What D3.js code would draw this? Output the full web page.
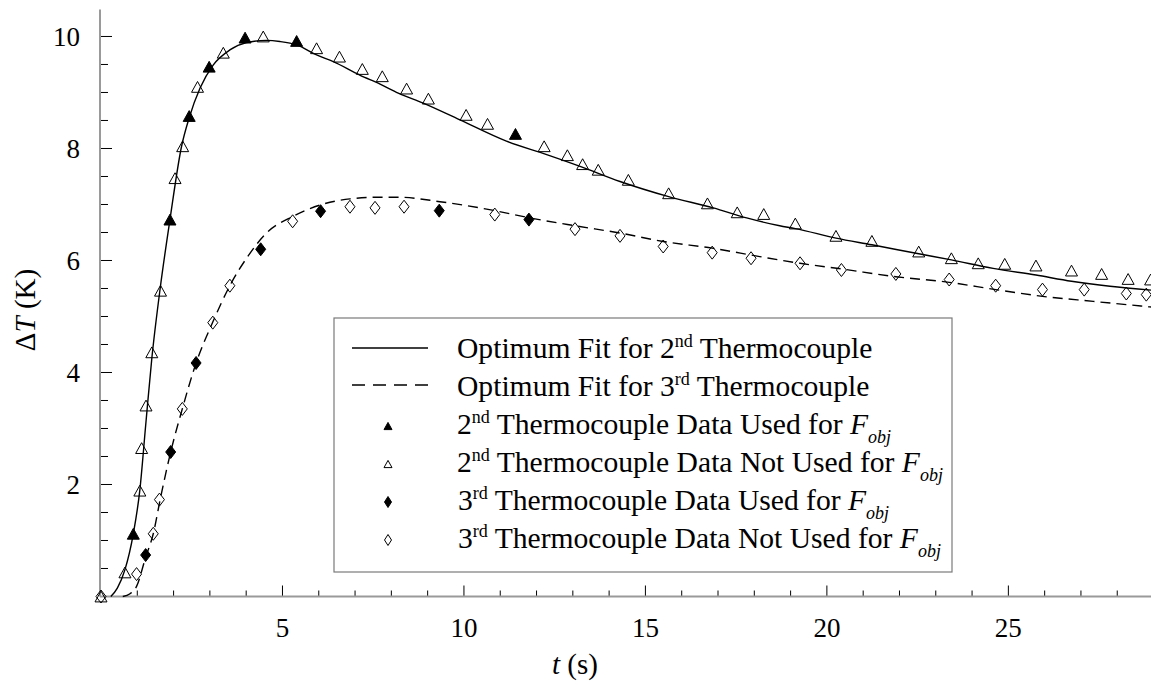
<!DOCTYPE html>
<html lang="en">
<head>
<meta charset="UTF-8">
<title>Thermocouple fit</title>
<script src="https://d3js.org/d3.v7.min.js"></script>
<style>
  body { margin: 0; background: #fff; }
  svg { display: block; }
</style>
</head>
<body>
<script>
  // tick labels
  const xTicks = [5, 10, 15, 20, 25];
  const yTicks = [2, 4, 6, 8, 10];

  // 2nd thermocouple data (t in s, dT in K)
  const t2Used = [0.89, 1.90, 2.43, 2.98, 3.97, 5.39, 11.42];
  const dT2Used = [1.12, 6.73, 8.58, 9.46, 9.98, 9.92, 8.26];
  const t2NotUsed = [0, 0.66, 1.07, 1.12, 1.24, 1.40, 1.64, 2.04, 2.25, 2.66, 3.37, 4.47, 5.94, 6.57, 7.20, 7.75,
    8.42, 9.02, 10.06, 10.65, 12.21, 12.85, 13.27, 13.70, 14.53, 15.64, 16.71, 17.53, 18.26, 19.13, 20.25,
    21.24, 22.53, 23.43, 24.17, 24.90, 25.76, 26.74, 27.57, 28.30, 28.92];
  const dT2NotUsed = [0, 0.43, 1.89, 2.65, 3.41, 4.36, 5.46, 7.47, 8.04, 9.10, 9.71, 10.0, 9.79, 9.64, 9.42, 9.29,
    9.07, 8.89, 8.60, 8.44, 8.04, 7.88, 7.72, 7.62, 7.44, 7.20, 7.02, 6.86, 6.83, 6.66, 6.44,
    6.35, 6.16, 6.04, 5.95, 5.94, 5.91, 5.82, 5.76, 5.67, 5.66];

  // 3rd thermocouple data
  const t3Used = [1.23, 1.92, 2.62, 4.40, 6.05, 9.32, 11.79];
  const dT3Used = [0.74, 2.58, 4.17, 6.20, 6.88, 6.89, 6.73];
  const t3NotUsed = [0, 0.98, 1.44, 1.61, 2.24, 3.08, 3.55, 5.28, 6.86, 7.55, 8.35, 10.85, 13.06, 14.30, 15.49,
    16.84, 17.91, 19.26, 20.40, 21.90, 23.37, 24.65, 25.94, 27.09, 28.25, 28.80];
  const dT3NotUsed = [0, 0.40, 1.12, 1.73, 3.35, 4.89, 5.55, 6.70, 6.96, 6.94, 6.96, 6.82, 6.56, 6.44, 6.25,
    6.14, 6.04, 5.95, 5.83, 5.76, 5.66, 5.55, 5.48, 5.48, 5.41, 5.39];

  // optimum fits
  const fit2t = [0.27, 0.45, 0.66, 0.89, 1.07, 1.23, 1.40, 1.63, 1.90, 2.22, 2.43, 2.73, 3.09, 3.55, 4.01, 4.56,
    4.93, 5.39, 5.94, 6.40, 7.13, 7.69, 8.19, 8.88, 9.89, 11.17, 12.28, 13.20, 14.30, 15.64, 16.87, 17.79,
    18.70, 19.13, 20.25, 21.24, 22.53, 23.43, 24.58, 25.76, 26.74, 27.80, 28.93];
  const fit2dT = [0, 0.15, 0.48, 1.12, 1.90, 3.05, 4.25, 5.50, 6.73, 8.04, 8.55, 9.08, 9.49, 9.76, 9.89, 9.93,
    9.91, 9.85, 9.67, 9.55, 9.31, 9.15, 8.99, 8.81, 8.51, 8.13, 7.89, 7.68, 7.41, 7.14, 6.94, 6.76,
    6.62, 6.57, 6.40, 6.28, 6.12, 6.01, 5.86, 5.74, 5.63, 5.54, 5.47];
  const fit3t = [0.60, 0.80, 0.98, 1.23, 1.44, 1.63, 1.92, 2.24, 2.62, 3.08, 3.55, 4.01, 4.56, 5.30, 6.03, 6.86,
    7.69, 8.19, 9.34, 10.85, 11.82, 13.06, 14.30, 15.49, 16.84, 18.15, 19.26, 20.40, 21.90, 23.37, 24.65,
    25.94, 27.34, 28.93];
  const fit3dT = [0, 0.05, 0.18, 0.70, 1.12, 1.73, 2.58, 3.35, 4.17, 4.90, 5.55, 6.04, 6.49, 6.79, 6.99, 7.10,
    7.13, 7.13, 7.05, 6.89, 6.76, 6.62, 6.49, 6.34, 6.22, 6.07, 5.95, 5.85, 5.71, 5.61, 5.48,
    5.36, 5.27, 5.17];

  const W = 1151, H = 690;
  const fontName = "Liberation Serif";
  const svg = d3.select("body").append("svg").attr("width", W).attr("height", H)
    .attr("font-family", fontName);

  const x = d3.scaleLinear().domain([0, 28.93]).range([101, 1151]);
  const y = d3.scaleLinear().domain([0, 10.48]).range([596.5, 9.6]);

  const zip = (a, b) => a.map((v, i) => [v, b[i]]);

  // axes: gray axis line, black inward ticks
  const xMinor = d3.range(1, 29).filter(v => v % 5 !== 0);
  const yMinor = d3.range(0.5, 10.5, 0.5).filter(v => v % 2 !== 0);

  const ax = svg.append("g");
  ax.selectAll(".xminor").data(xMinor).enter().append("line")
    .attr("x1", d => x(d)).attr("x2", d => x(d))
    .attr("y1", y(0)).attr("y2", y(0) - 6)
    .attr("stroke", "#000").attr("stroke-width", 1);
  ax.selectAll(".xmajor").data(xTicks).enter().append("line")
    .attr("x1", d => x(d)).attr("x2", d => x(d))
    .attr("y1", y(0)).attr("y2", y(0) - 11)
    .attr("stroke", "#000").attr("stroke-width", 1);
  ax.selectAll(".yminor").data(yMinor).enter().append("line")
    .attr("x1", x(0)).attr("x2", x(0) + 7)
    .attr("y1", d => y(d)).attr("y2", d => y(d))
    .attr("stroke", "#000").attr("stroke-width", 1);
  ax.selectAll(".ymajor").data(yTicks).enter().append("line")
    .attr("x1", x(0)).attr("x2", x(0) + 11)
    .attr("y1", d => y(d)).attr("y2", d => y(d))
    .attr("stroke", "#000").attr("stroke-width", 1);

  ax.append("line").attr("x1", x(0) - 1).attr("x2", W).attr("y1", y(0)).attr("y2", y(0))
    .attr("stroke", "#9a9a9a").attr("stroke-width", 2);
  ax.append("line").attr("x1", x(0) - 1).attr("x2", x(0) - 1).attr("y1", y(0)).attr("y2", y.range()[1])
    .attr("stroke", "#9a9a9a").attr("stroke-width", 2);

  ax.selectAll(".xlab").data(xTicks).enter().append("text")
    .attr("font-family", fontName)
    .attr("x", d => x(d)).attr("y", 637)
    .attr("text-anchor", "middle").attr("font-size", 27)
    .text(d => d);
  ax.selectAll(".ylab").data(yTicks).enter().append("text")
    .attr("font-family", fontName)
    .attr("x", 80).attr("y", d => y(d) + 9.5)
    .attr("text-anchor", "end").attr("font-size", 27)
    .text(d => d);

  // axis titles
  const xt = svg.append("text").attr("font-family", fontName)
    .attr("x", 575).attr("y", 674).attr("text-anchor", "middle").attr("font-size", 29);
  xt.append("tspan").attr("font-style", "italic").text("t");
  xt.append("tspan").text(" (s)");
  const yt = svg.append("text").attr("font-family", fontName)
    .attr("transform", "translate(35,310) rotate(-90)")
    .attr("text-anchor", "middle").attr("font-size", 29);
  yt.append("tspan").text("\u0394");
  yt.append("tspan").attr("font-style", "italic").text("T");
  yt.append("tspan").text(" (K)");

  // fit curves
  const line = d3.line().x(d => x(d[0])).y(d => y(d[1])).curve(d3.curveMonotoneX);
  svg.append("path").datum(zip(fit2t, fit2dT)).attr("d", line)
    .attr("fill", "none").attr("stroke", "#000").attr("stroke-width", 1.4);
  svg.append("path").datum(zip(fit3t, fit3dT)).attr("d", line)
    .attr("fill", "none").attr("stroke", "#000").attr("stroke-width", 1.4)
    .attr("stroke-dasharray", "10,6");

  // marker shapes
  const tri = s => `M0,${-s * 0.45}L${s / 2},${s * 0.45}L${-s / 2},${s * 0.45}Z`;
  const dia = (w, h) => `M0,${-h / 2}L${w / 2},0L0,${h / 2}L${-w / 2},0Z`;

  function markers(ts, vs, path, filled) {
    svg.append("g").selectAll("path").data(zip(ts, vs)).enter().append("path")
      .attr("d", path)
      .attr("transform", d => `translate(${x(d[0])},${y(d[1])})`)
      .attr("fill", filled ? "#000" : "none")
      .attr("stroke", "#000").attr("stroke-width", 1);
  }
  markers(t2NotUsed, dT2NotUsed, tri(12), false);
  markers(t3NotUsed, dT3NotUsed, dia(10, 13), false);
  markers(t2Used, dT2Used, tri(12), true);
  markers(t3Used, dT3Used, dia(10, 13), true);

  // legend
  const lg = svg.append("g");
  lg.append("rect").attr("x", 334).attr("y", 318).attr("width", 618).attr("height", 254)
    .attr("fill", "#fff").attr("stroke", "#7a7a7a").attr("stroke-width", 1.2);

  const rowBase = [358, 396, 434, 472, 510, 548];
  const fs = 29.6;

  function legendText(xx, yy, num, suf, body, withF) {
    const t = lg.append("text").attr("font-family", fontName)
      .attr("x", xx).attr("y", yy).attr("font-size", fs);
    t.append("tspan").text(num);
    t.append("tspan").attr("font-size", 18).attr("dy", -11).text(suf);
    t.append("tspan").attr("dy", 11).text(body);
    if (withF) {
      t.append("tspan").attr("font-style", "italic").text("F");
      t.append("tspan").attr("font-style", "italic").attr("font-size", 18).attr("dy", 9).text("obj");
    }
  }

  lg.append("line").attr("x1", 352).attr("x2", 428).attr("y1", rowBase[0] - 10).attr("y2", rowBase[0] - 10)
    .attr("stroke", "#000").attr("stroke-width", 1.4);
  legendText(457, rowBase[0], "Optimum Fit for 2", "nd", " Thermocouple", false);

  lg.append("line").attr("x1", 352).attr("x2", 428).attr("y1", rowBase[1] - 11).attr("y2", rowBase[1] - 11)
    .attr("stroke", "#000").attr("stroke-width", 1.4).attr("stroke-dasharray", "13,8");
  legendText(457, rowBase[1], "Optimum Fit for 3", "rd", " Thermocouple", false);

  const legMarks = [
    { p: tri(8), f: true, num: "2", suf: "nd", body: " Thermocouple Data Used for " },
    { p: tri(8), f: false, num: "2", suf: "nd", body: " Thermocouple Data Not Used for " },
    { p: dia(7, 11), f: true, num: "3", suf: "rd", body: " Thermocouple Data Used for " },
    { p: dia(7, 11), f: false, num: "3", suf: "rd", body: " Thermocouple Data Not Used for " }
  ];
  legMarks.forEach((m, i) => {
    const yy = rowBase[i + 2];
    lg.append("path").attr("d", m.p).attr("transform", `translate(388,${yy - 8})`)
      .attr("fill", m.f ? "#000" : "#fff").attr("stroke", "#000").attr("stroke-width", 1);
    legendText(m.num === "2" ? 457 : 458, yy, m.num, m.suf, m.body, true);
  });
</script>
</body>
</html>
